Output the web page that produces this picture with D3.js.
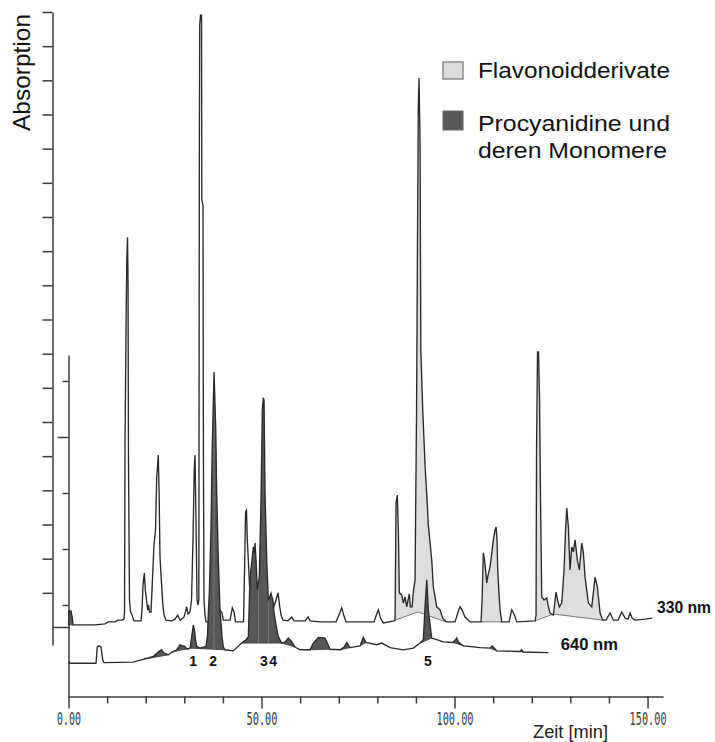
<!DOCTYPE html>
<html><head><meta charset="utf-8">
<script src="https://cdn.jsdelivr.net/npm/d3@7"></script>
<style>body{margin:0;background:#fff}svg{display:block}</style>
</head><body><svg id="c" width="715" height="742"></svg>
<script>
// ---------- data (time in min, absorption in arbitrary units) ----------
const trace330 = [[0,0.06],[0.13,0.47],[0.65,0.47],[0.91,0.32],[1.17,0.06],[6.87,0.06],[9.46,0.09],[10.23,0.15],[12.05,0.15],[12.82,0.20],[13.86,0.20],[14.38,0.23],
[14.51,0.44],[14.64,5.33],[14.90,8.69],[15.10,10.74],[15.29,11.41],[15.41,10.30],[15.54,4.89],[15.80,0.79],[16.06,0.44],[16.37,0.38],[16.97,0.18],[18.78,0.18],
[19.04,0.50],[19.30,1.23],[19.64,1.58],[19.90,1.08],[20.21,0.79],[20.52,0.50],[20.73,0.64],[20.98,0.44],[21.37,0.44],
[21.63,1.08],[22.15,2.40],[22.54,2.84],[22.85,4.39],[23.26,5.03],[23.50,3.72],[23.70,2.05],[24.04,1.38],[24.40,0.70],[24.74,0.35],[25.26,0.20],[26.81,0.18],[27.59,0.23],[28.29,0.35],[28.89,0.20],[29.92,0.29],[30.62,0.59],[30.96,0.38],[31.48,0.44],[31.87,0.79],
[32.25,2.55],[32.57,4.60],[32.77,5.03],[33.03,3.13],[33.29,0.79],[33.55,0.64],[33.76,0.79],
[33.81,5.18],[33.89,13.67],[33.99,17.62],[34.20,17.91],[34.46,17.91],[34.53,12.50],[34.84,12.35],[34.95,5.18],[35.10,0.79],[35.36,0.35],[35.62,0.15],[38.73,0.15],[39.25,0.50],[39.77,0.41],[40.10,0.20],[41.84,0.20],[42.44,0.56],[42.88,0.44],[43.26,0.15],[45.34,0.15],
[45.65,1.96],[45.86,3.37],[46.11,3.42],[46.32,2.55],[46.58,1.96],[46.89,1.23],[47.28,0.79],[48.32,0.64],[49.09,0.79],[50.13,1.08],[50.91,0.94],[51.68,0.79],[52.46,0.85],[53.24,0.61],[53.76,0.79],[54.27,1.00],[54.66,0.64],[55.05,0.35],[55.57,0.20],[56.87,0.18],[57.82,0.29],[58.42,0.18],[61.27,0.18],[62.05,0.29],[62.57,0.18],[65.16,0.15],[69.30,0.15],[69.95,0.32],[70.78,0.56],[71.37,0.32],[71.89,0.15],[79.15,0.15],[79.66,0.32],[80.26,0.50],[80.83,0.26],[81.56,0.12],[84.33,0.18],
[84.59,0.20],[84.85,3.63],[85.18,3.86],[85.44,2.84],[85.70,1.00],[86.32,0.94],[86.74,0.70],[87.18,0.88],[87.62,0.59],[87.95,0.79],[88.29,0.97],[88.55,0.59],[88.99,0.59],[89.38,1.08],[89.77,1.38],[90.16,6.35],[90.60,15.13],[90.80,16.07],[91.06,14.25],[91.27,8.11],[91.76,6.35],[92.36,4.74],[92.88,3.72],[93.21,2.99],[94.09,1.96],[94.51,1.17],[95.39,0.59],[96.25,0.50],[96.94,0.26],[97.80,0.15],
[100.13,0.15],[100.91,0.44],[101.43,0.59],[101.94,0.50],[102.72,0.29],[104.02,0.15],[106.87,0.15],
[107.13,0.79],[107.46,2.17],[107.77,1.96],[108.03,1.67],[108.34,1.29],[108.68,1.52],[109.20,1.76],[109.59,2.11],[110.05,2.55],[110.49,2.84],[110.75,2.93],[111.01,2.55],[111.19,1.67],[111.53,0.94],[111.79,0.50],[112.23,0.15],
[114.12,0.15],[114.82,0.50],[115.42,0.38],[116.11,0.15],[120.86,0.18],
[121.11,0.35],[121.24,5.18],[121.50,8.05],[121.76,8.05],[122.02,6.64],[122.28,3.72],[122.59,0.88],[123.19,0.79],[123.89,0.85],[124.22,0.64],[124.74,0.41],[125.60,0.35],[126.04,0.79],[126.30,1.02],[126.69,0.79],[127.15,0.59],[127.77,0.70],[128.37,1.67],[128.76,2.84],[129.07,3.48],[129.48,2.93],[129.92,1.67],[130.36,2.34],[130.78,2.20],[131.22,2.55],[131.81,1.96],[132.33,1.67],[132.96,2.46],[133.37,2.17],[133.81,1.46],[134.67,0.70],[135.55,0.59],[136.40,1.46],[137.00,1.17],[137.70,0.41],[138.39,0.20],[139.25,0.20],[140.29,0.41],[141.14,0.20],[142.36,0.20],[143.32,0.44],[144.17,0.26],[144.95,0.23],[145.47,0.41],[145.99,0.26],[146.76,0.20],[149.35,0.23],[151.17,0.26]];

const trace640 = [[0,-0.01],[0.39,-0.04],[7.12,-0.04],[7.46,0.25],[7.90,0.27],[8.42,0.25],[8.86,0.02],[9.20,-0.03],[16.71,-0.02],[19.38,0.03],[21.97,0.08],[23.19,0.16],[24.15,0.20],[24.56,0.15],[25.86,0.11],[26.81,0.16],[28.03,0.20],[28.89,0.29],[29.40,0.27],[29.92,0.27],[30.78,0.21],[31.48,0.23],[31.92,0.43],[32.33,0.64],[32.64,0.55],[32.90,0.38],[33.21,0.26],[34.07,0.23],[35.62,0.26],[36.01,0.46],[36.22,0.86],[36.48,1.21],[36.92,2.39],[37.18,3.59],[37.36,4.16],[37.70,5.16],[38.14,4.16],[38.39,3.00],[38.81,1.80],[39.25,0.91],[39.77,0.43],[40.10,0.25],[40.54,0.20],[42.69,0.18],[44.87,0.32],[45.99,0.38],[46.58,0.43],[47.02,1.50],[47.54,1.80],[47.88,2.04],[48.14,1.93],[48.32,2.11],[48.58,1.80],[48.91,1.27],[49.43,1.50],[49.87,2.88],[50.21,4.48],[50.47,4.70],[50.65,4.66],[50.91,3.00],[51.35,1.80],[51.76,1.09],[52.07,1.14],[52.46,1.21],[52.90,1.09],[53.24,0.86],[53.76,0.64],[54.35,0.43],[55.23,0.32],[56.09,0.34],[56.94,0.41],[57.64,0.36],[58.68,0.25],[59.97,0.20],[62.57,0.20],[63.42,0.32],[64.72,0.42],[66.45,0.41],[67.75,0.21],[70.34,0.20],[71.37,0.25],[72.07,0.33],[72.93,0.24],[75.52,0.27],[76.37,0.42],[77.07,0.33],[79.85,0.29],[81.14,0.32],[83.29,0.24],[86.74,0.20],[89.33,0.23],[91.06,0.32],[91.92,0.38],[92.36,0.97],[92.80,1.45],[93.21,0.91],[94.09,0.41],[95.39,0.38],[97.10,0.34],[99.69,0.33],[100.57,0.41],[101.09,0.33],[102.28,0.27],[106.61,0.24],[109.20,0.23],[109.79,0.27],[110.93,0.18],[116.97,0.17],[117.41,0.20],[117.75,0.16],[124.30,0.15]];

// integrated peak groups: [start, end] in min, optional intermediate baseline anchors [t, value]
const flavonoidGroups = [
  {range:[84.59,97.80], anchors:[[90.54,0.44]]},
  {range:[106.87,112.23], anchors:[]},
  {range:[120.86,138.39], anchors:[[125.60,0.38]]}
];
const procyanidinGroups = [[19.38,25.86],[26.81,31.48],[31.48,40.54],[44.87,55.23],[55.23,58.68],[62.57,67.75],[70.34,72.93],[75.52,77.07],[91.06,94.09],[99.69,102.28],[109.20,110.93],[116.97,117.75]];
const startPeak330 = [[0,1.17]];
const dropLineTimes = [37.70,49.20,51.80];

const peakLabels = ["1","2","3","4","5"];
const peakTimes = [32.3,37.5,50.6,53.0,93.1];

const xTickValues = [0,10,20,30,40,50,60,70,80,90,100,110,120,130,140,150];
const xLabelValues = [0,50,100,150];
const xLabelTexts = ["0.00","50.00","100.00","150.00"];
const y330TickValues = [0,1,2,3,4,5,6,7,8,9,10,11,12,13,14,15,16,17,18];
const y640TickValues = [1,2,3,4,5];

// ---------- scales ----------
const svg = d3.select("#c");
const x = d3.scaleLinear().domain([0,154]).range([68.5,663]);
const y330 = d3.scaleLinear().domain([-0.527,18]).range([645,12]);
const y640 = d3.scaleLinear().domain([-0.643,5.464]).range([697,355]);

const FONT = "'Liberation Sans', Arial, Helvetica, sans-serif";
const LINE = "#2a2a2a", DARK = "#575757", LIGHT = "#dedede";

function interp(trace, t){
  for(let i=0;i<trace.length-1;i++){
    const a=trace[i], b=trace[i+1];
    if(t>=a[0] && t<=b[0]) return a[1] + (b[1]-a[1])*(t-a[0])/(b[0]-a[0]);
  }
  return trace[trace.length-1][1];
}
function segment(trace, t0, t1){
  const pts=[[t0,interp(trace,t0)]];
  trace.forEach(p=>{ if(p[0]>t0 && p[0]<t1) pts.push(p); });
  pts.push([t1,interp(trace,t1)]);
  return pts;
}
function drawFill(g, trace, ys, t0, t1, mids, fill, edge){
  const anchors=[[t0,interp(trace,t0)],...mids,[t1,interp(trace,t1)]];
  const b=t=>interp(anchors,t);
  const pts=segment(trace,t0,t1);
  mids.forEach(m=>{ if(!pts.some(p=>p[0]===m[0])) pts.push([m[0],interp(trace,m[0])]); });
  pts.sort((p,q)=>p[0]-q[0]);
  const area=d3.area().x(d=>x(d[0])).y0(d=>ys(Math.min(b(d[0]),d[1]))).y1(d=>ys(d[1]));
  g.append("path").attr("d",area(pts)).attr("fill",fill).attr("stroke","none");
  g.append("path").attr("d",d3.line().x(d=>x(d[0])).y(d=>ys(d[1]))(anchors))
    .attr("fill","none").attr("stroke",edge).attr("stroke-width",0.9);
  return b;
}

// ---------- axes ----------
const axCol="#3c3c3c";
const gOuter=svg.append("g").attr("transform","translate(52.5,0)")
  .call(d3.axisLeft(y330).tickValues(y330TickValues).tickSize(10).tickSizeOuter(0).tickFormat(""));
gOuter.attr("color",axCol).selectAll("path,line").attr("stroke-width",1.5);
gOuter.selectAll(".tick").filter(d=>d===0).select("line").attr("x2",x(0)-52.5+1.5);

const gInner=svg.append("g").attr("transform","translate(68.5,0)")
  .call(d3.axisLeft(y640).tickValues(y640TickValues).tickSize(6).tickSizeOuter(0).tickFormat(""));
gInner.attr("color",axCol).selectAll("path,line").attr("stroke-width",1.5);
gInner.selectAll(".tick").filter(d=>d===4).select("line").attr("x2",-11);

const gX=svg.append("g").attr("transform","translate(0,696.5)")
  .call(d3.axisBottom(x).tickValues(xTickValues).tickSize(7).tickSizeOuter(0).tickFormat(""));
gX.attr("color",axCol).selectAll("path,line").attr("stroke-width",1.5);
gX.selectAll(".tick").filter(d=>d%50===0).select("line").attr("y2",12);

const widthByLen={4:24,5:31,6:37};
svg.append("g").selectAll("text").data(xLabelValues).join("text")
  .attr("x",d=>x(d)+0.5).attr("y",725).attr("text-anchor","middle")
  .attr("font-family","'DejaVu Sans Mono', monospace").attr("font-size",17)
  .attr("fill","#3a3a3a")
  .attr("textLength",(d,i)=>widthByLen[xLabelTexts[i].length]).attr("lengthAdjust","spacingAndGlyphs")
  .text((d,i)=>xLabelTexts[i]);

// ---------- 330 nm ----------
const g330=svg.append("g");
flavonoidGroups.forEach(gr=>drawFill(g330,trace330,y330,gr.range[0],gr.range[1],gr.anchors,LIGHT,"#6a6a6a"));
startPeak330.forEach(r=>drawFill(g330,trace330,y330,r[0],r[1],[],DARK,DARK));
g330.append("path").attr("d",d3.line().x(d=>x(d[0])).y(d=>y330(d[1]))(trace330))
  .attr("fill","none").attr("stroke",LINE).attr("stroke-width",1.35).attr("stroke-linejoin","miter");

// ---------- 640 nm ----------
const g640=svg.append("g");
const bases=[];
procyanidinGroups.forEach(r=>{ bases.push({r, b:drawFill(g640,trace640,y640,r[0],r[1],[],DARK,"#444")}); });
dropLineTimes.forEach(t=>{
  const grp=bases.find(o=>t>=o.r[0]&&t<=o.r[1]);
  g640.append("line").attr("x1",x(t)).attr("x2",x(t))
    .attr("y1",y640(grp.b(t))).attr("y2",y640(interp(trace640,t))+2)
    .attr("stroke","#aaa").attr("stroke-width",0.8).attr("stroke-dasharray","1,1");
});
g640.append("path").attr("d",d3.line().x(d=>x(d[0])).y(d=>y640(d[1]))(trace640))
  .attr("fill","none").attr("stroke",LINE).attr("stroke-width",1.35);

// ---------- labels ----------
const last330=trace330[trace330.length-1], last640=trace640[trace640.length-1];
svg.append("text").attr("x",x(last330[0])+5).attr("y",y330(last330[1])-5.5)
  .attr("font-family",FONT).attr("font-weight","bold").attr("font-size",16.5)
  .attr("textLength",54).attr("lengthAdjust","spacingAndGlyphs").attr("fill","#111").text("330 nm");
svg.append("text").attr("x",x(last640[0])+12.5).attr("y",y640(last640[1])-2.5)
  .attr("font-family",FONT).attr("font-weight","bold").attr("font-size",17)
  .attr("textLength",57).attr("lengthAdjust","spacingAndGlyphs").attr("fill","#111").text("640 nm");

svg.append("g").selectAll("text").data(peakTimes).join("text")
  .attr("x",d=>x(d)).attr("y",666).attr("text-anchor","middle")
  .attr("font-family",FONT).attr("font-weight","bold").attr("font-size",14).attr("fill","#111")
  .text((d,i)=>peakLabels[i]);

svg.append("text").attr("x",533).attr("y",737.5)
  .attr("font-family",FONT).attr("font-size",18).attr("fill","#222")
  .attr("textLength",75).attr("lengthAdjust","spacingAndGlyphs").text("Zeit [min]");

svg.append("text").attr("transform","translate(30,72.5) rotate(-90)").attr("text-anchor","middle")
  .attr("font-family",FONT).attr("font-size",24.5).attr("fill","#111").text("Absorption");

// ---------- legend ----------
const leg=svg.append("g");
leg.append("rect").attr("x",443).attr("y",62).attr("width",20).attr("height",17)
  .attr("fill","#dcdcdc").attr("stroke","#8a8a8a").attr("stroke-width",1.5);
leg.append("rect").attr("x",443).attr("y",111).attr("width",20).attr("height",19)
  .attr("fill","#595959").attr("stroke","#666").attr("stroke-width",1);
const legText=[["Flavonoidderivate",78,192],["Procyanidine und",131,192],["deren Monomere",158,189]];
leg.selectAll("text.l").data(legText).join("text").attr("class","l")
  .attr("x",478).attr("y",d=>d[1]).attr("font-family",FONT).attr("font-size",22).attr("fill","#111")
  .attr("textLength",d=>d[2]).attr("lengthAdjust","spacingAndGlyphs").text(d=>d[0]);
</script></body></html>
